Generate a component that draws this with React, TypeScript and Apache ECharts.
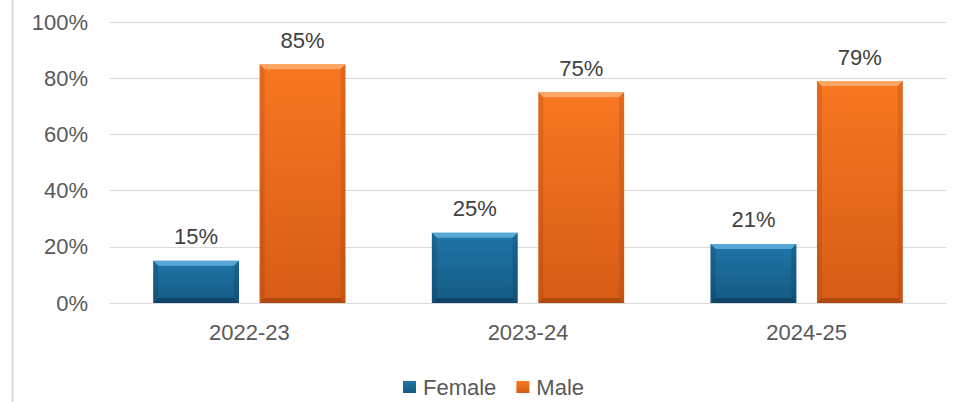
import React, { useEffect, useRef } from "react";
import * as echarts from "echarts";

const categories = ["2022-23", "2023-24", "2024-25"];
const female = [15, 25, 21];
const male = [85, 75, 79];
const yTicks = [0, 20, 40, 60, 80, 100];

const FONT = "'Liberation Sans', Arial, sans-serif";
const CAT_GAP = 0.31;
const BAR_GAP = 0.24;

const bevelColors = [
  { top: "rgba(110,190,235,0.7)", side: "rgba(10,50,80,0.22)", bottom: "rgba(5,35,60,0.4)" },
  { top: "rgba(255,185,125,0.7)", side: "rgba(120,40,0,0.16)", bottom: "rgba(100,35,0,0.32)" },
];

export default function App() {
  const ref = useRef<HTMLDivElement>(null);
  useEffect(() => {
    document.body.style.margin = "0";
    const chart = echarts.init(ref.current!, null, { renderer: "svg" });
    const grad = (top: string, bottom: string) =>
      new echarts.graphic.LinearGradient(0, 0, 0, 1, [
        { offset: 0, color: top },
        { offset: 1, color: bottom },
      ]);
    const bevel = (k: number) => (params: any, api: any) => {
      const idx = api.value(0);
      const val = api.value(1);
      const top = api.coord([idx, val]);
      const base = api.coord([idx, 0]);
      const band = api.size([1, 0])[0];
      const usable = band * (1 - CAT_GAP);
      const bw = usable / (2 + BAR_GAP);
      const x0 = top[0] - usable / 2 + k * bw * (1 + BAR_GAP);
      const x1 = x0 + bw;
      const y0 = top[1];
      const y1 = base[1];
      const b = Math.min(5, (y1 - y0) / 3);
      const c = bevelColors[k];
      return {
        type: "group",
        silent: true,
        children: [
          {
            type: "polygon",
            shape: { points: [[x0, y0], [x1, y0], [x1 - b, y0 + b], [x0 + b, y0 + b]] },
            style: { fill: c.top },
          },
          {
            type: "polygon",
            shape: { points: [[x0, y0], [x0 + b, y0 + b], [x0 + b, y1 - b], [x0, y1]] },
            style: { fill: c.side },
          },
          {
            type: "polygon",
            shape: { points: [[x1, y0], [x1 - b, y0 + b], [x1 - b, y1 - b], [x1, y1]] },
            style: { fill: c.side },
          },
          {
            type: "polygon",
            shape: { points: [[x0, y1], [x0 + b, y1 - b], [x1 - b, y1 - b], [x1, y1]] },
            style: { fill: c.bottom },
          },
        ],
      };
    };
    const labelStyle = {
      show: true,
      position: "top",
      distance: 13,
      formatter: "{c}%",
      fontSize: 22,
      color: "#404040",
      fontFamily: FONT,
    };
    chart.setOption({
      animation: false,
      backgroundColor: "#ffffff",
      textStyle: { fontFamily: FONT },
      graphic: [
        {
          type: "line",
          shape: { x1: 12.5, y1: 0, x2: 12.5, y2: 402 },
          style: { stroke: "#d9d9d9", lineWidth: 2 },
        },
      ],
      grid: { left: 110, right: 15, top: 22, bottom: 99 },
      legend: {
        top: 376,
        left: 403,
        padding: 0,
        itemWidth: 13,
        itemHeight: 12,
        itemGap: 20,
        icon: "rect",
        textStyle: { fontSize: 22, color: "#595959", fontFamily: FONT, padding: [0, 0, 0, 2] },
        data: ["Female", "Male"],
      },
      xAxis: {
        type: "category",
        data: categories,
        axisLine: { lineStyle: { color: "#d9d9d9" } },
        axisTick: { show: false },
        axisLabel: { fontSize: 22, color: "#595959", margin: 18, fontFamily: FONT },
      },
      yAxis: {
        type: "value",
        min: 0,
        max: 100,
        interval: 20,
        axisLine: { show: false },
        axisTick: { show: false },
        splitLine: { lineStyle: { color: "#d9d9d9", width: 1 } },
        axisLabel: {
          fontSize: 22,
          color: "#595959",
          margin: 22,
          fontFamily: FONT,
          formatter: (v: number) => (yTicks.includes(v) ? v + "%" : ""),
        },
      },
      series: [
        {
          name: "Female",
          type: "bar",
          data: female,
          barGap: BAR_GAP * 100 + "%",
          barCategoryGap: CAT_GAP * 100 + "%",
          itemStyle: { color: grad("#1f75a6", "#155a84") },
          label: labelStyle,
        },
        {
          name: "Male",
          type: "bar",
          data: male,
          itemStyle: { color: grad("#f87722", "#d65c16") },
          label: labelStyle,
        },
        {
          name: "femaleBevel",
          type: "custom",
          silent: true,
          z: 3,
          renderItem: bevel(0),
          data: female.map((v, i) => [i, v]),
          encode: { x: 0, y: 1 },
        },
        {
          name: "maleBevel",
          type: "custom",
          silent: true,
          z: 3,
          renderItem: bevel(1),
          data: male.map((v, i) => [i, v]),
          encode: { x: 0, y: 1 },
        },
      ],
      color: ["#1a6a9a", "#ee6d1e"],
    });
    return () => chart.dispose();
  }, []);
  return <div ref={ref} style={{ width: 961, height: 402 }} />;
}
